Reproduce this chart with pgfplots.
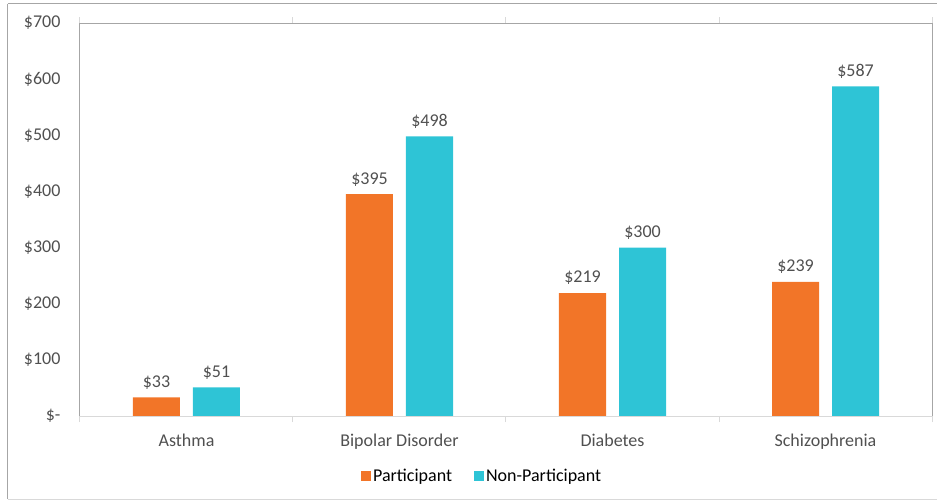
\documentclass[border=0pt]{standalone}
\usepackage{pgfplots}
\pgfplotsset{compat=1.18}
\usepackage{fontspec}
\setmainfont{Carlito}
\definecolor{partc}{RGB}{242,117,40}
\definecolor{nonp}{RGB}{46,196,214}
\definecolor{txt}{RGB}{80,80,80}
\definecolor{frame}{RGB}{166,166,166}
\definecolor{lightline}{RGB}{217,217,217}
\begin{document}
\begin{tikzpicture}[x=1pt,y=1pt]
\useasboundingbox (-80,-85) rectangle (858,416);
\draw[frame, line width=1pt] (-72,412) -- (-72,-83);
\draw[lightline, line width=1pt] (-72,-83) -- (857,-83);
\draw[frame, line width=1pt] (-72,412) -- (857,412);
\begin{axis}[
  at={(0,0)}, anchor=south west,
  scale only axis, width=852pt, height=393pt,
  clip=false,
  xmin=-0.5, xmax=3.5, ymin=0, ymax=700,
  ybar=13pt, bar width=47pt,
  axis line style={draw=none},
  font=\fontsize{18}{21}\selectfont\color{txt},
  ytick={0,100,200,300,400,500,600,700},
  yticklabels={\$-\hspace{8pt},\$100,\$200,\$300,\$400,\$500,\$600,\$700},
  yticklabel style={xshift=-16pt},
  major tick length=0pt,
  xtick={0,1,2,3},
  xticklabels={Asthma,Bipolar Disorder,Diabetes,Schizophrenia},
  xticklabel style={yshift=-14pt},
  minor xtick={-0.5,0.5,1.5,2.5,3.5},
  minor tick length=6pt, tick align=outside,
  minor tick style={lightline, line width=1pt},
  nodes near coords={\$\pgfmathprintnumber{\pgfplotspointmeta}},
  every node near coord/.append style={font=\fontsize{18}{21}\selectfont, color=txt, anchor=south, inner sep=4pt, yshift=4pt},
  /pgf/number format/assume math mode=true,
  legend style={at={(0.472,-0.153)}, anchor=center, draw=none, fill=none,
    legend columns=-1, font=\fontsize{18}{21}\selectfont,
    /tikz/every even column/.append style={column sep=20pt},
    /tikz/every odd column/.append style={column sep=0pt}},
  legend image code/.code={\fill[#1] (0pt,-5pt) rectangle (10pt,5pt);},
]
\addplot[fill=partc, draw=none] coordinates {(0,33) (1,395) (2,219) (3,239)};
\addplot[fill=nonp, draw=none] coordinates {(0,51) (1,498) (2,300) (3,587)};
\legend{Participant,Non-Participant}
\draw[frame, line width=1pt] (rel axis cs:0,0) -- (rel axis cs:0,1) -- (rel axis cs:1,1) -- (rel axis cs:1,0);
\draw[lightline, line width=1pt] (rel axis cs:0,0) -- (rel axis cs:1,0);
\end{axis}
\end{tikzpicture}
\end{document}
